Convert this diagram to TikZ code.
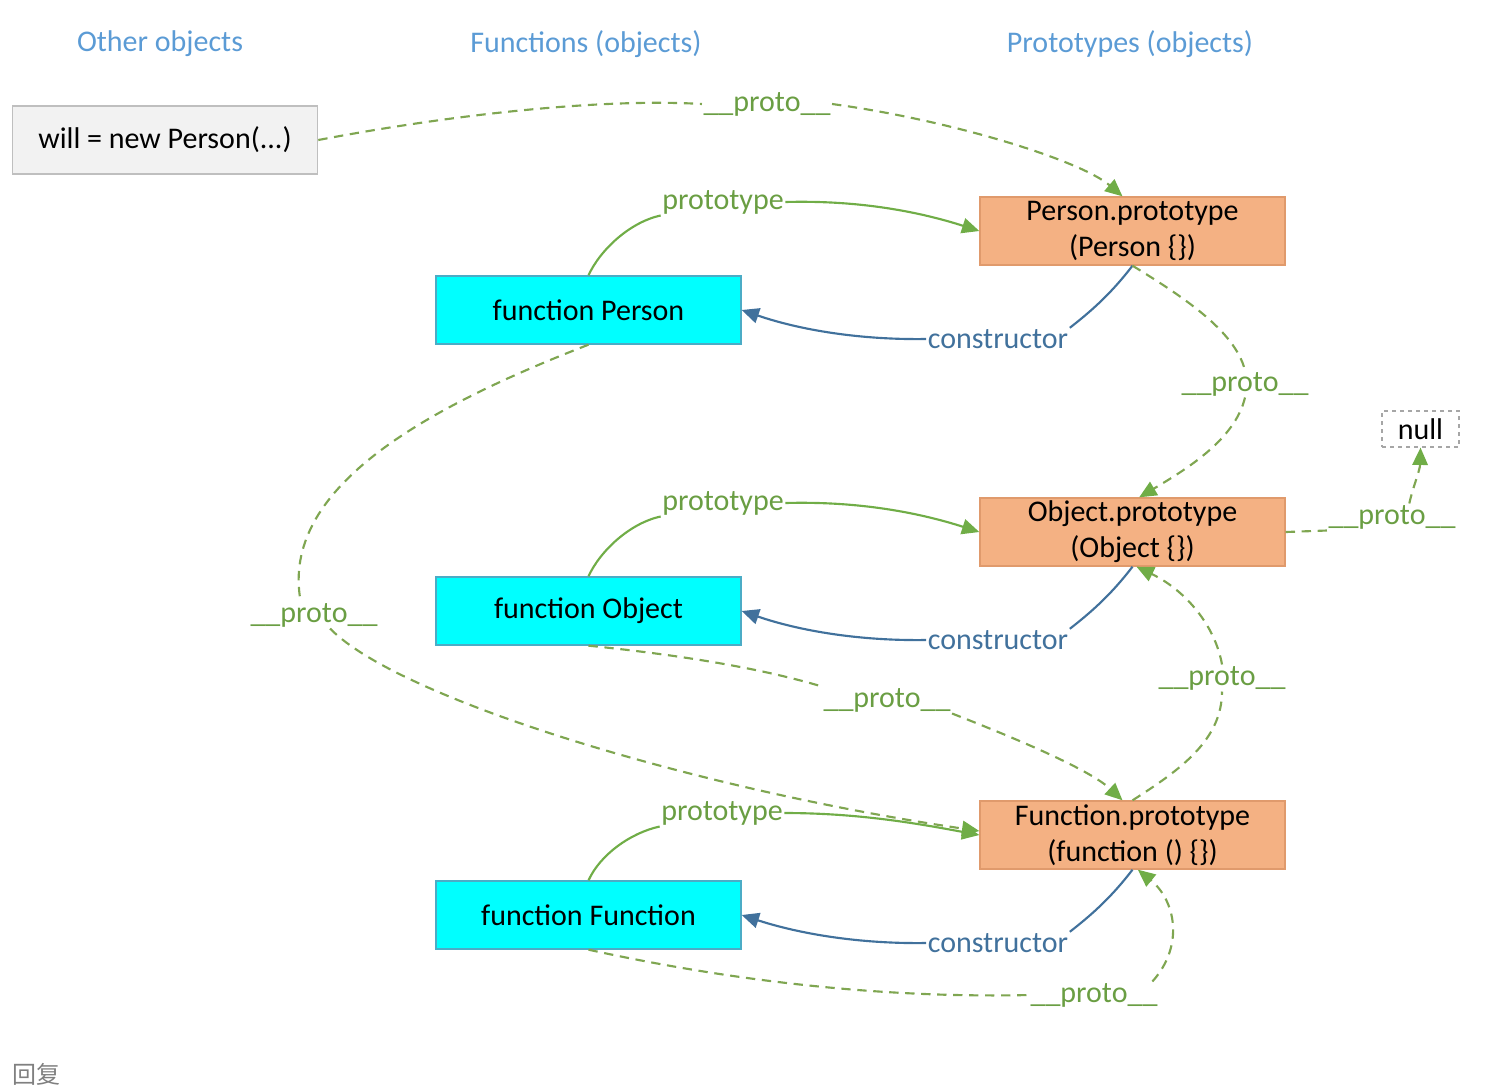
\documentclass[tikz,border=0pt]{standalone}
\usepackage{fontspec}
\setmainfont{Carlito}
\newfontfamily\cjkfont{Noto Sans CJK SC}
\usetikzlibrary{arrows.meta}
\definecolor{hdrblue}{HTML}{5B9BD5}
\definecolor{fncyan}{HTML}{00FFFF}
\definecolor{fnborder}{HTML}{4BACC6}
\definecolor{protofill}{HTML}{F4B183}
\definecolor{protoborder}{HTML}{E09A6C}
\definecolor{otherfill}{HTML}{F2F2F2}
\definecolor{otherborder}{HTML}{BFBFBF}
\definecolor{lblgreen}{HTML}{6A9E43}
\definecolor{linegreen}{HTML}{70AD47}
\definecolor{dashgreen}{HTML}{7FA651}
\definecolor{ctorblue}{HTML}{41719C}
\begin{document}
\begin{tikzpicture}[x=0.75pt,y=-0.75pt,
  font=\fontsize{22.5pt}{27pt}\selectfont,
  box/.style={minimum width=228.75pt, minimum height=51pt, inner sep=0pt, line width=1pt, align=center},
  fnbox/.style={box, fill=fncyan, draw=fnborder},
  protobox/.style={box, fill=protofill, draw=protoborder},
  otherbox/.style={box, fill=otherfill, draw=otherborder, line width=1.2pt},
  hdr/.style={inner sep=1pt, text=hdrblue},
  lbl/.style={inner sep=1pt, text=lblgreen},
  ctor/.style={inner sep=1pt, text=ctorblue},
  dline/.style={draw=dashgreen, line width=1.6pt, dash pattern=on 7pt off 5pt},
  sline/.style={draw=linegreen, line width=1.6pt},
  bline/.style={draw=ctorblue, line width=1.6pt},
  tipg/.style={-{Triangle[length=13pt,width=11.5pt,color=linegreen,fill=linegreen]}},
  tipb/.style={-{Triangle[length=13pt,width=11.5pt,color=ctorblue,fill=ctorblue]}}
]
\useasboundingbox (0,0) rectangle (1492,1090);

% headers
\node[hdr] (h1) at (160,44) {Other objects};
\node[hdr] (h2) at (586,44) {Functions (objects)};
\node[hdr] (h3) at (1130,44) {Prototypes (objects)};

% boxes
\node[otherbox] (will) at (165,140) {will = new Person(...)};
\node[protobox] (Pp) at (1132.5,231) {Person.prototype\\(Person \{\})};
\node[fnbox] (fP) at (588.5,310) {function Person};
\node[protobox] (Op) at (1132.5,532) {Object.prototype\\(Object \{\})};
\node[fnbox] (fO) at (588.5,611) {function Object};
\node[protobox] (Fp) at (1132.5,835) {Function.prototype\\(function () \{\})};
\node[fnbox] (fF) at (588.5,915) {function Function};
\node[draw=gray!70, dashed, line width=0.9pt, minimum width=57.75pt, minimum height=27pt, inner sep=0pt] (null) at (1420.5,429) {null};

% labels
\node[lbl] (p1) at (767,104) {\_\_proto\_\_};
\node[lbl] (p2) at (1245,384) {\_\_proto\_\_};
\node[lbl] (pn) at (1392,517) {\_\_proto\_\_};
\node[lbl] (pl) at (314,615) {\_\_proto\_\_};
\node[lbl] (pf) at (887,700) {\_\_proto\_\_};
\node[lbl] (pfo) at (1222,678) {\_\_proto\_\_};
\node[lbl] (pff) at (1094,995) {\_\_proto\_\_};
\node[lbl] (pt1) at (723,202) {prototype};
\node[lbl] (pt2) at (723,503) {prototype};
\node[lbl] (pt3) at (722,813) {prototype};
\node[ctor] (c1) at (998,339) {constructor};
\node[ctor] (c2) at (998,640) {constructor};
\node[ctor] (c3) at (998,943) {constructor};

% reply text
\node[anchor=north west, inner sep=0pt, text=gray, font=\cjkfont\fontsize{18pt}{20pt}\selectfont] (reply) at (12,1063) {回复};

% will -> Person.prototype
\draw[dline] (will.east) .. controls (450,115) and (600,98) .. (p1.west);
\draw[dline,tipg] (p1.east) .. controls (950,120) and (1080,160) .. ([xshift=-7.5pt]Pp.north);

% prototype arrows
\draw[sline] (fP.north) .. controls (600,250) and (630,222) .. (pt1.south west);
\draw[sline,tipg] (pt1.east) .. controls (860,200) and (920,212) .. (Pp.west);
\draw[sline] (fO.north) .. controls (600,551) and (630,523) .. (pt2.south west);
\draw[sline,tipg] (pt2.east) .. controls (860,501) and (920,513) .. (Op.west);
\draw[sline] (fF.north) .. controls (600,855) and (630,833) .. (pt3.south west);
\draw[sline,tipg] (pt3.east) .. controls (860,813) and (920,824) .. (Fp.west);

% constructor arrows
\draw[bline] (Pp.south) .. controls (1110,295) and (1090,312) .. (c1.north east);
\draw[bline,tipb] (c1.west) .. controls (860,340) and (800,330) .. (fP.east);
\draw[bline] (Op.south) .. controls (1110,596) and (1090,613) .. (c2.north east);
\draw[bline,tipb] (c2.west) .. controls (860,641) and (800,631) .. (fO.east);
\draw[bline] (Fp.south) .. controls (1110,899) and (1090,916) .. (c3.north east);
\draw[bline,tipb] (c3.west) .. controls (860,944) and (800,934) .. (fF.east);

% Person.prototype -> Object.prototype
\draw[dline] (Pp.south) .. controls (1180,295) and (1235,330) .. (p2.north);
\draw[dline,tipg] (p2.south) .. controls (1235,440) and (1185,470) .. ([xshift=5pt]Op.north);

% Object.prototype -> null
\draw[dline] (Op.east) -- (pn.south west);
\draw[dline,tipg] ([xshift=13pt]pn.north) .. controls (1412,490) and (1420,470) .. (null.south);

% function Person -> Function.prototype
\draw[dline] (fP.south) .. controls (420,410) and (280,490) .. ([xshift=-10pt]pl.north);
\draw[dline,tipg] ([xshift=12pt]pl.south) .. controls (400,700) and (700,790) .. ([yshift=3pt]Fp.west);

% function Object -> Function.prototype
\draw[dline] (fO.south) .. controls (680,655) and (760,668) .. (pf.north west);
\draw[dline,tipg] (pf.south east) .. controls (1020,740) and (1090,770) .. ([xshift=-7.5pt]Fp.north);

% Function.prototype -> Object.prototype
\draw[dline] (Fp.north) .. controls (1180,770) and (1222,740) .. (pfo.south);
\draw[dline,tipg] (pfo.north) .. controls (1215,625) and (1185,590) .. ([xshift=3pt]Op.south);

% function Function -> Function.prototype
\draw[dline] (fF.south) .. controls (750,985) and (900,998) .. (pff.west);
\draw[dline,tipg] ([xshift=-5pt]pff.north east) .. controls (1185,945) and (1175,900) .. ([xshift=4pt]Fp.south);
\end{tikzpicture}
\end{document}
